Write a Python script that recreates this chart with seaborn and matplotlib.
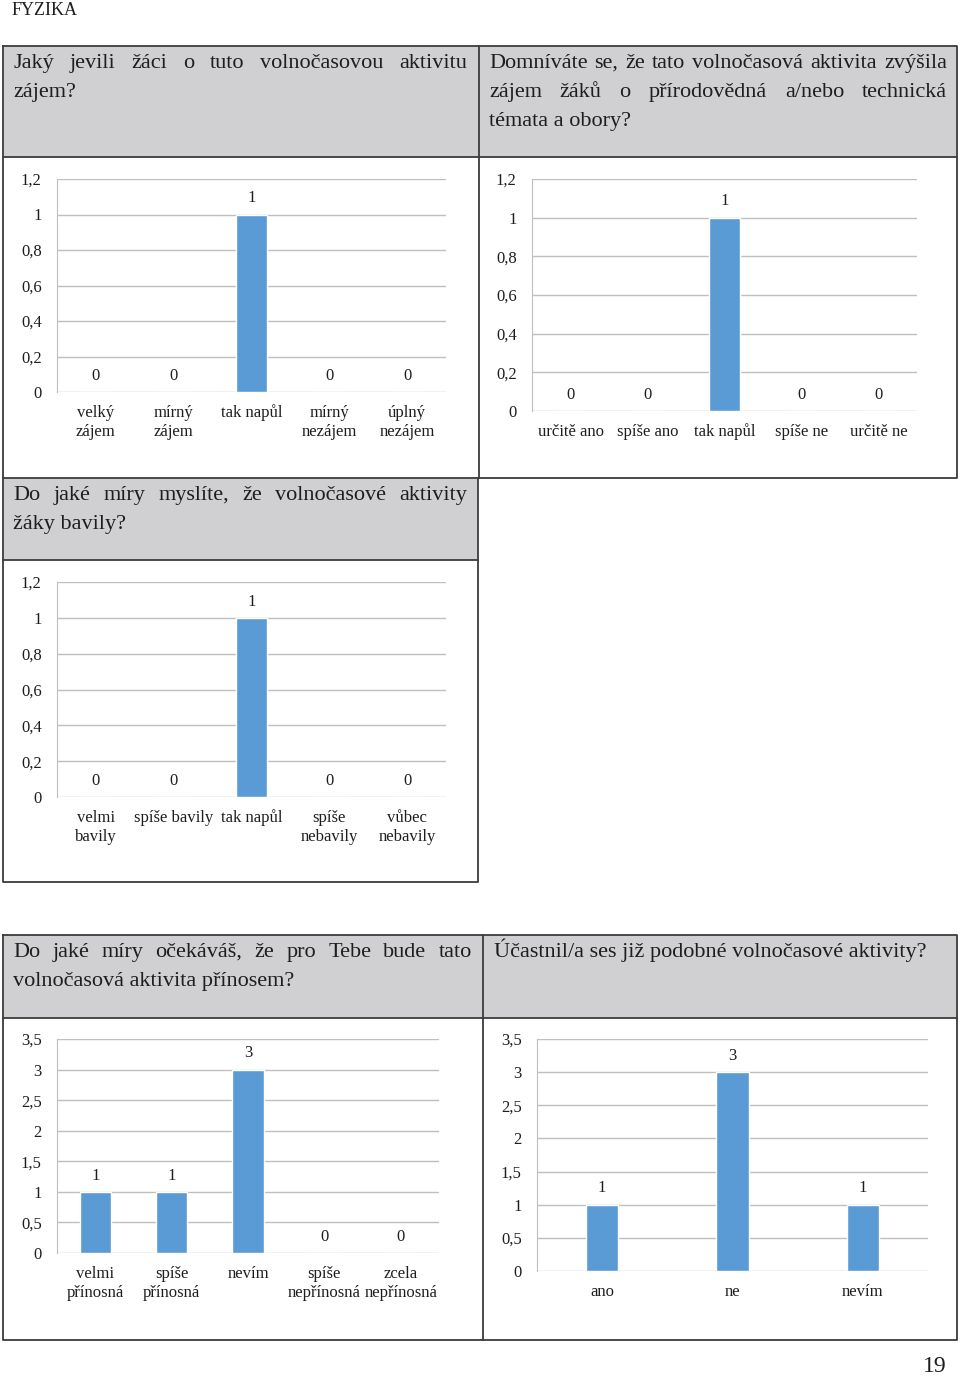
import matplotlib
matplotlib.use('Agg')
import matplotlib.pyplot as plt
import seaborn as sns
import pandas as pd
import numpy as np
from matplotlib.patches import Rectangle
from matplotlib.lines import Line2D
from matplotlib.ticker import FuncFormatter

# --- data ---
zajem_cats = ['velký\nzájem', 'mírný\nzájem', 'tak napůl', 'mírný\nnezájem', 'úplný\nnezájem']
zajem_vals = [0, 0, 1, 0, 0]

zvysila_cats = ['určitě ano', 'spíše ano', 'tak napůl', 'spíše ne', 'určitě ne']
zvysila_vals = [0, 0, 1, 0, 0]

bavily_cats = ['velmi\nbavily', 'spíše bavily', 'tak napůl', 'spíše\nnebavily', 'vůbec\nnebavily']
bavily_vals = [0, 0, 1, 0, 0]

prinos_cats = ['velmi\npřínosná', 'spíše\npřínosná', 'nevím', 'spíše\nnepřínosná', 'zcela\nnepřínosná']
prinos_vals = [1, 1, 3, 0, 0]

ucast_cats = ['ano', 'ne', 'nevím']
ucast_vals = [1, 3, 1]

W, H = 960, 1377
BAR = '#5b9bd5'
GRID = '#bfbfbf'
BORDER = '#3c3c3c'
HEAD = '#d0cfd1'
TXT = '#1e1e1e'
HS = 16     # header font size
TS = 12     # tick font size

sns.set_style('white')
plt.rcParams['font.family'] = ['Liberation Serif', 'DejaVu Serif']

fig = plt.figure(figsize=(W / 100, H / 100), dpi=100)
renderer = fig.canvas.get_renderer()


def fx(x):
    return x / W


def fy(y):
    return 1 - y / H


def fill(x0, y0, x1, y1, color):
    fig.add_artist(Rectangle((fx(x0), fy(y1)), fx(x1) - fx(x0), fy(y0) - fy(y1),
                             transform=fig.transFigure, facecolor=color, edgecolor='none', zorder=0))


def line(xs, ys):
    fig.add_artist(Line2D([fx(x) for x in xs], [fy(y) for y in ys],
                          transform=fig.transFigure, color=BORDER, lw=1.3, zorder=1))


def para(lines, x0, x1, y0, step=29):
    # justified paragraph, last line left aligned (like Word)
    for i, ln in enumerate(lines):
        y = y0 + i * step
        words = ln.split()
        if i == len(lines) - 1 or len(words) == 1:
            fig.text(fx(x0), fy(y), ln, ha='left', va='baseline', fontsize=HS, color=TXT)
            continue
        texts = [fig.text(0, fy(y), w, ha='left', va='baseline', fontsize=HS, color=TXT) for w in words]
        widths = [t.get_window_extent(renderer).width for t in texts]
        gap = ((x1 - x0) - sum(widths)) / (len(words) - 1)
        x = x0
        for t, w in zip(texts, widths):
            t.set_x(fx(x))
            x += w + gap


def chart(cats, vals, box, ymax, step, width):
    x0, y0, x1, y1 = box
    ax = fig.add_axes([fx(x0), fy(y1), fx(x1) - fx(x0), fy(y0) - fy(y1)])
    df = pd.DataFrame({'cat': cats, 'val': vals})
    sns.barplot(data=df, x='cat', y='val', color=BAR, saturation=1, width=width, ax=ax, errorbar=None)
    ax.bar_label(ax.containers[0], labels=[str(v) for v in vals], padding=6, fontsize=TS, color=TXT)
    ax.set_ylim(0, ymax)
    ax.set_yticks(np.arange(0, ymax + step / 2, step))
    ax.yaxis.set_major_formatter(FuncFormatter(lambda v, p: f'{v:g}'.replace('.', ',')))
    ax.grid(axis='y', color=GRID, lw=1.0)
    ax.set_axisbelow(True)
    for s in ['top', 'right', 'bottom']:
        ax.spines[s].set_visible(False)
    ax.spines['left'].set_color(GRID)
    ax.tick_params(axis='y', length=0, pad=11, labelsize=TS, labelcolor=TXT)
    ax.tick_params(axis='x', length=0, pad=9, labelsize=TS, labelcolor=TXT)
    for lab in ax.get_xticklabels():
        lab.set_multialignment('center')
        lab.set_linespacing(1.3)
    ax.set_xlabel('')
    ax.set_ylabel('')
    ax.patch.set_alpha(0)
    return ax


# page header
fig.text(fx(12), fy(15), 'FYZIKA', fontsize=13, color=TXT, va='baseline')

# table 1 (two cells) + middle cell
fill(3, 46, 957, 157, HEAD)
fill(3, 478, 478, 560, HEAD)
line([3, 957, 957, 3, 3], [46, 46, 478, 478, 46])
line([3, 957], [157, 157])
line([479, 479], [46, 478])
line([3, 3, 478, 478], [478, 882, 882, 478])
line([3, 478], [560, 560])

# table 3
fill(3, 935, 957, 1018, HEAD)
line([3, 957, 957, 3, 3], [935, 935, 1340, 1340, 935])
line([3, 957], [1018, 1018])
line([483, 483], [935, 1340])

para(['Jaký jevili žáci o tuto volnočasovou aktivitu', 'zájem?'], 13, 467, 68)
para(['Domníváte se, že tato volnočasová aktivita zvýšila',
      'zájem žáků o přírodovědná a/nebo technická', 'témata a obory?'], 489, 947, 68)
para(['Do jaké míry myslíte, že volnočasové aktivity', 'žáky bavily?'], 13, 467, 500)
para(['Do jaké míry očekáváš, že pro Tebe bude tato', 'volnočasová aktivita přínosem?'], 13, 472, 957)
para(['Účastnil/a ses již podobné volnočasové aktivity?'], 494, 932, 957)

chart(zajem_cats, zajem_vals, (57, 179, 446, 392), 1.2, 0.2, 0.41)
chart(zvysila_cats, zvysila_vals, (532, 179, 917, 411), 1.2, 0.2, 0.40)
chart(bavily_cats, bavily_vals, (57, 582, 446, 797), 1.2, 0.2, 0.41)
chart(prinos_cats, prinos_vals, (57, 1039, 439, 1253), 3.5, 0.5, 0.41)
chart(ucast_cats, ucast_vals, (537, 1039, 928, 1271), 3.5, 0.5, 0.246)

fig.text(fx(935), fy(1367), '19', fontsize=17, color=TXT, ha='center', va='center')

fig.savefig('out.png', dpi=100)
